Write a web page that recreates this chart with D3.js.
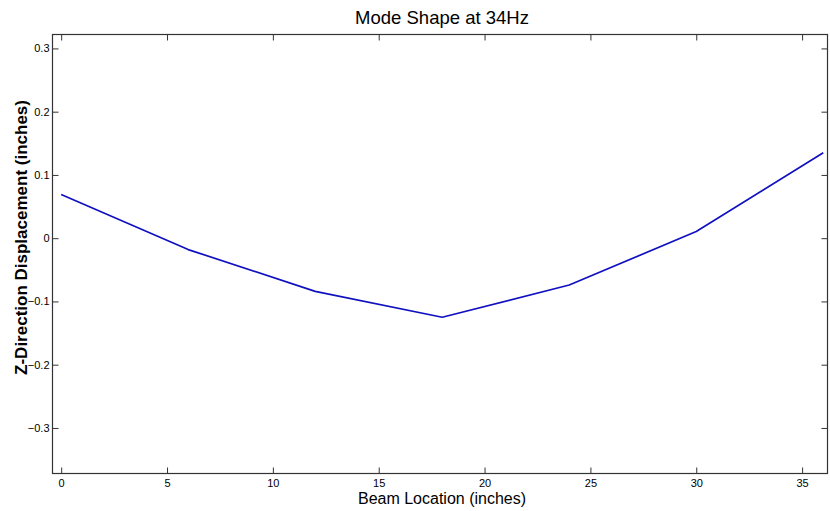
<!DOCTYPE html>
<html>
<head>
<meta charset="utf-8">
<title>Mode Shape at 34Hz</title>
<script src="https://cdn.jsdelivr.net/npm/d3@7"></script>
<style>
  body { margin: 0; background: #fff; }
  svg text { font-family: "Liberation Sans", Arial, sans-serif; fill: #000; }
</style>
</head>
<body>
<script>
  // beam positions (inches) and measured displacement
  var location_in = [0, 6, 12, 18, 24, 30, 36];
  var displacement = [0.069, -0.018, -0.084, -0.125, -0.074, 0.0105, 0.135];
  var xTicks = [0, 5, 10, 15, 20, 25, 30, 35];
  var yTicks = [-0.3, -0.2, -0.1, 0, 0.1, 0.2, 0.3];

  var width = 830, height = 511,
    plotL = 52.5, plotR = 827.5, plotT = 34.5, plotB = 473.5;

  var svg = d3.select('body').append('svg')
    .attr('width', width)
    .attr('height', height);

  var x = d3.scaleLinear().domain([-0.41, 36.2]).range([plotL, plotR]);
  var y = d3.scaleLinear().domain([-0.372, 0.322]).range([plotB, plotT]);

  // box
  svg.append('rect')
    .attr('x', plotL).attr('y', plotT)
    .attr('width', plotR - plotL).attr('height', plotB - plotT)
    .attr('fill', 'none').attr('stroke', '#333').attr('stroke-width', 1.2);

  // ticks pointing inward on all sides
  function styleAxis(g) {
    g.select('.domain').remove();
    g.selectAll('.tick line').attr('stroke', '#333');
    g.selectAll('.tick text').attr('font-size', 11).attr('fill', '#222');
  }

  svg.append('g')
    .attr('transform', 'translate(0,' + plotB + ')')
    .call(d3.axisTop(x).tickValues(xTicks).tickSize(6).tickFormat(d3.format('d')))
    .call(styleAxis)
    .call(g => g.selectAll('.tick text').attr('y', 6).attr('dy', '0.71em'));

  svg.append('g')
    .attr('transform', 'translate(0,' + plotT + ')')
    .call(d3.axisBottom(x).tickValues(xTicks).tickSize(6).tickFormat(''))
    .call(styleAxis);

  svg.append('g')
    .attr('transform', 'translate(' + plotL + ',0)')
    .call(d3.axisRight(y).tickValues(yTicks).tickSize(6).tickFormat(d => d === 0 ? '0' : d3.format('.1f')(d)))
    .call(styleAxis)
    .call(g => g.selectAll('.tick text').attr('x', -3).attr('text-anchor', 'end'));

  svg.append('g')
    .attr('transform', 'translate(' + plotR + ',0)')
    .call(d3.axisLeft(y).tickValues(yTicks).tickSize(6).tickFormat(''))
    .call(styleAxis);

  // mode shape line
  var line = d3.line()
    .x((d, i) => x(location_in[i]))
    .y(d => y(d));

  svg.append('path')
    .datum(displacement)
    .attr('d', line)
    .attr('fill', 'none')
    .attr('stroke', '#1010c0')
    .attr('stroke-width', 1.7)
    .attr('stroke-linejoin', 'round');

  // labels
  svg.append('text')
    .attr('x', 442).attr('y', 24)
    .attr('text-anchor', 'middle')
    .attr('font-size', 18.5)
    .text('Mode Shape at 34Hz');

  svg.append('text')
    .attr('x', 442).attr('y', 504)
    .attr('text-anchor', 'middle')
    .attr('font-size', 16)
    .text('Beam Location (inches)');

  svg.append('text')
    .attr('transform', 'translate(27,237.5) rotate(-90)')
    .attr('text-anchor', 'middle')
    .attr('font-size', 17)
    .attr('font-weight', 'bold')
    .text('Z-Direction Displacement (inches)');
</script>
</body>
</html>
